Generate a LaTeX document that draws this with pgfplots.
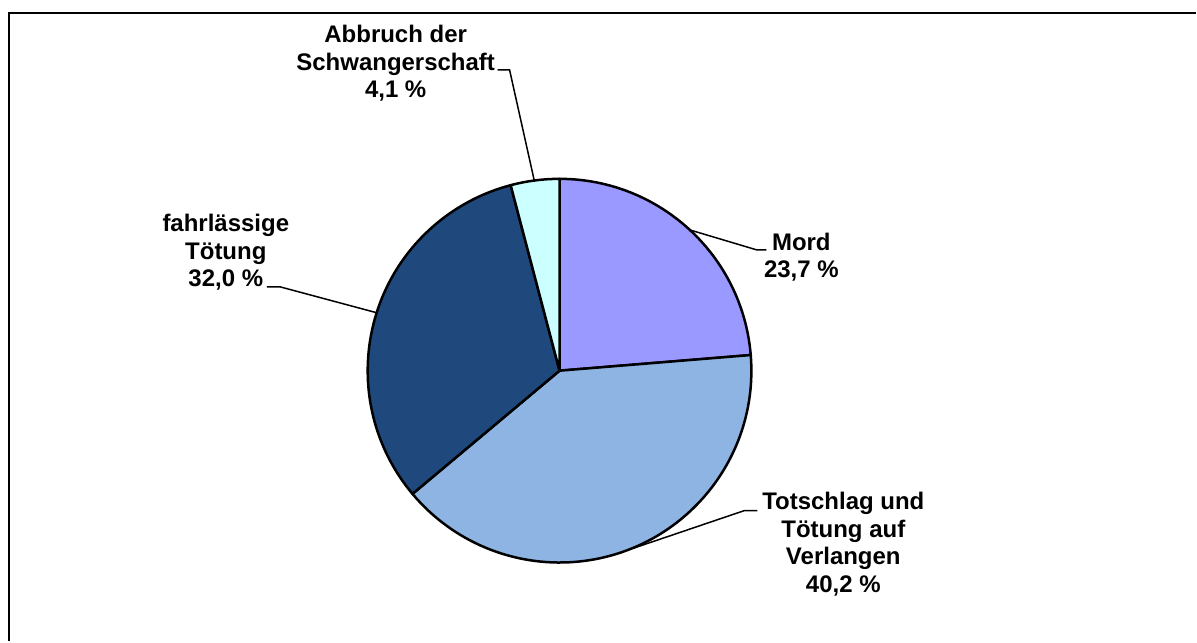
\documentclass[border=0pt]{standalone}
\usepackage{pgfplots}
\pgfplotsset{compat=1.18}
\usepackage{pgfplotstable}
\usepackage{fontspec}
\setmainfont{Liberation Sans}

\definecolor{cMord}{HTML}{9999FF}
\definecolor{cTot}{HTML}{8EB4E3}
\definecolor{cFahr}{HTML}{1F497D}
\definecolor{cAbb}{HTML}{CCFFFF}

% anchor=base of a multi-line node sits on its last line
\tikzset{lbl/.style={font=\fontsize{24}{27.6}\selectfont\bfseries, align=center, inner sep=0pt, anchor=base}}

% shares in percent, clockwise from 12 o'clock
\pgfplotstableread{
pct  col
23.7 cMord
40.2 cTot
32.0 cFahr
4.1  cAbb
}\piedata

\begin{document}
\begin{tikzpicture}
\begin{axis}[
    x=1pt, y=1pt,
    xmin=0, xmax=1197, ymin=0, ymax=642,
    hide axis, clip=false,
]
\path (axis cs:0,0) rectangle (axis cs:1197,642);

% frame (only top and left edges visible)
\addplot[black, line width=2pt, forget plot] coordinates {(9.5,0) (9.5,628.5) (1197,628.5)};

\def\cum{0}
\pgfplotsforeachungrouped \i in {0,...,3}{%
  \pgfplotstablegetelem{\i}{pct}\of\piedata \let\p\pgfplotsretval
  \pgfplotstablegetelem{\i}{col}\of\piedata \let\c\pgfplotsretval
  \pgfmathsetmacro\aS{90-3.6*\cum}%
  \pgfmathsetmacro\aE{90-3.6*(\cum+\p)}%
  \edef\doslice{\noexpand\filldraw[fill=\c, draw=black, line width=2.5pt, line join=round]
    (axis cs:560,271) -- ++(\aS:192pt) arc[start angle=\aS, end angle=\aE, radius=192pt] -- cycle;}%
  \doslice
  \pgfmathsetmacro\cum{\cum+\p}%
}

% leader lines
\addplot[black, line width=1.5pt] coordinates {(767,392) (757,392) (690,412)};
\addplot[black, line width=1.5pt] coordinates {(758,131) (745,131) (633,93)};
\addplot[black, line width=1.5pt] coordinates {(267,355) (280,355) (377,329)};
\addplot[black, line width=1.5pt] coordinates {(498,572) (510,572) (535,460)};

\node[lbl] at (axis cs:802,364) {Mord\\23,7 \%};
\node[lbl] at (axis cs:844,49) {Totschlag und\\Tötung auf\\Verlangen\\40,2 \%};
\node[lbl] at (axis cs:226,355) {fahrlässige\\Tötung\\32,0 \%};
\node[lbl] at (axis cs:396,544) {Abbruch der\\Schwangerschaft\\4,1 \%};
\end{axis}
\end{tikzpicture}
\end{document}
